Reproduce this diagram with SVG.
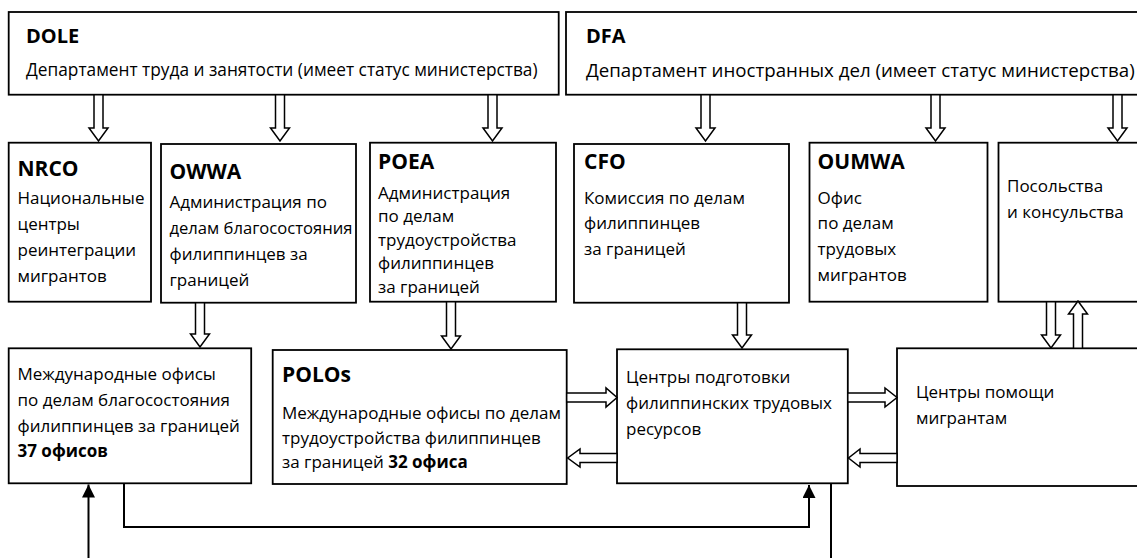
<svg xmlns="http://www.w3.org/2000/svg" width="1137" height="558" viewBox="0 0 1137 558">
<style>
.box{fill:#fff;stroke:#000;stroke-width:1.8}
.t{font-family:"Open Sans","Noto Sans",sans-serif;font-size:17px;fill:#000}
.h{font-family:"Open Sans","Noto Sans",sans-serif;font-size:21px;font-weight:bold;fill:#000}
.h0{font-size:20px}
.b{font-weight:bold}
.ha{fill:#fff;stroke:#000;stroke-width:1.5;stroke-linejoin:miter}
.ln{fill:none;stroke:#000;stroke-width:2}
</style>
<defs>
<marker id="tri" markerUnits="userSpaceOnUse" markerWidth="14" markerHeight="14" refX="13" refY="6.5" orient="auto">
<path d="M0,0 L13,6.5 L0,13 z" fill="#000"/>
</marker>
</defs>

<g id="dole">
<rect class="box" x="8.7" y="12" width="550" height="82.7"/>
<text class="h h0" x="26" y="43">DOLE</text>
<text class="t" x="26" y="76" style="font-size:17.3px">Департамент труда и занятости (имеет статус министерства)</text>
</g>
<g id="dfa">
<rect class="box" x="566" y="12" width="580" height="82.7"/>
<text class="h h0" x="586" y="43">DFA</text>
<text class="t" x="586" y="77" style="font-size:18.7px">Департамент иностранных дел (имеет статус министерства)</text>
</g>

<g id="nrco">
<rect class="box" x="8.7" y="142.7" width="142.3" height="159"/>
<text class="h" x="17.5" y="176">NRCO</text>
<text class="t" x="17.5" y="204">Национальные</text>
<text class="t" x="17.5" y="230">центры</text>
<text class="t" x="17.5" y="256">реинтеграции</text>
<text class="t" x="17.5" y="282">мигрантов</text>
</g>
<g id="owwa">
<rect class="box" x="161" y="144" width="195" height="158.7"/>
<text class="h" x="169.5" y="179">OWWA</text>
<text class="t" x="169.5" y="208">Администрация по</text>
<text class="t" x="169.5" y="234" textLength="183" lengthAdjust="spacingAndGlyphs">делам благосостояния</text>
<text class="t" x="169.5" y="260">филиппинцев за</text>
<text class="t" x="169.5" y="286">границей</text>
</g>
<g id="poea">
<rect class="box" x="370" y="142.7" width="186" height="159"/>
<text class="h" x="378" y="169">POEA</text>
<text class="t" x="378" y="199">Администрация</text>
<text class="t" x="378" y="222">по делам</text>
<text class="t" x="378" y="246">трудоустройства</text>
<text class="t" x="378" y="269">филиппинцев</text>
<text class="t" x="378" y="293">за границей</text>
</g>
<g id="cfo">
<rect class="box" x="574" y="144" width="215" height="158.7"/>
<text class="h" x="584" y="169">CFO</text>
<text class="t" x="584" y="204">Комиссия по делам</text>
<text class="t" x="584" y="229">филиппинцев</text>
<text class="t" x="584" y="255">за границей</text>
</g>
<g id="oumwa">
<rect class="box" x="809.5" y="142.7" width="178" height="159"/>
<text class="h" x="817.6" y="169">OUMWA</text>
<text class="t" x="817.6" y="204">Офис</text>
<text class="t" x="817.6" y="229">по делам</text>
<text class="t" x="817.6" y="255">трудовых</text>
<text class="t" x="817.6" y="281">мигрантов</text>
</g>
<g id="embassy">
<rect class="box" x="998.5" y="142.7" width="150" height="159"/>
<text class="t" x="1007" y="192">Посольства</text>
<text class="t" x="1007" y="218">и консульства</text>
</g>

<g id="owwa-intl">
<rect class="box" x="8.7" y="348.3" width="242.5" height="135"/>
<text class="t" x="17.5" y="380">Международные офисы</text>
<text class="t" x="17.5" y="406">по делам благосостояния</text>
<text class="t" x="17.5" y="432">филиппинцев за границей</text>
<text class="t b" x="17.5" y="457">37 офисов</text>
</g>
<g id="polos">
<rect class="box" x="272.7" y="350" width="294" height="134"/>
<text class="h" x="282" y="382">POLOs</text>
<text class="t" x="282" y="419">Международные офисы по делам</text>
<text class="t" x="282" y="444">трудоустройства филиппинцев</text>
<text class="t" x="282" y="468">за границей <tspan class="b">32 офиса</tspan></text>
</g>
<g id="training">
<rect class="box" x="617" y="349.3" width="230.8" height="134"/>
<text class="t" x="626" y="383">Центры подготовки</text>
<text class="t" x="626" y="409">филиппинских трудовых</text>
<text class="t" x="626" y="435">ресурсов</text>
</g>
<g id="help">
<rect class="box" x="897" y="348.3" width="250" height="137.7"/>
<text class="t" x="916" y="398">Центры помощи</text>
<text class="t" x="916" y="424">мигрантам</text>
</g>

<g id="connectors">
<polygon class="ha" points="94,94.7 103,94.7 103,128 108,128 98.5,141 89,128 94,128"/>
<polygon class="ha" points="275.5,94.7 284.5,94.7 284.5,128 289.5,128 280,141 270.5,128 275.5,128"/>
<polygon class="ha" points="488,94.7 497,94.7 497,128 502,128 492.5,141 483,128 488,128"/>
<polygon class="ha" points="701,94.7 710,94.7 710,128 715,128 705.5,141 696,128 701,128"/>
<polygon class="ha" points="931,94.7 940,94.7 940,128 945,128 935.5,141 926,128 931,128"/>
<polygon class="ha" points="1113,94.7 1122,94.7 1122,128 1127,128 1117.5,141 1108,128 1113,128"/>

<polygon class="ha" points="195.5,302.7 204.5,302.7 204.5,334 209.5,334 200,347 190.5,334 195.5,334"/>
<polygon class="ha" points="446.5,301.7 455.5,301.7 455.5,336 460.5,336 451,349 441.5,336 446.5,336"/>
<polygon class="ha" points="737.5,302.7 746.5,302.7 746.5,335 751.5,335 742,348 732.5,335 737.5,335"/>
<polygon class="ha" points="1046.5,301.7 1055.5,301.7 1055.5,335 1060.5,335 1051,348 1041.5,335 1046.5,335"/>
<polygon class="ha" points="1073.5,348.3 1082.5,348.3 1082.5,314 1087.5,314 1078,301 1068.5,314 1073.5,314"/>

<polygon class="ha" points="566.7,393 606,393 606,388 617,397.5 606,407 606,402 566.7,402"/>
<polygon class="ha" points="617,453.5 580,453.5 580,449 567.7,458 580,467 580,462.5 617,462.5"/>
<polygon class="ha" points="847.8,393 885,393 885,388 897,397.5 885,407 885,402 847.8,402"/>
<polygon class="ha" points="897,453.5 860,453.5 860,449 848.5,458 860,467 860,462.5 897,462.5"/>

<path class="ln" d="M124,483.3 V527 H809 V485" marker-end="url(#tri)"/>
<path class="ln" d="M831,483.3 V560"/>
<path class="ln" d="M88.5,560 V484.5" marker-end="url(#tri)"/>
</g>
</svg>
